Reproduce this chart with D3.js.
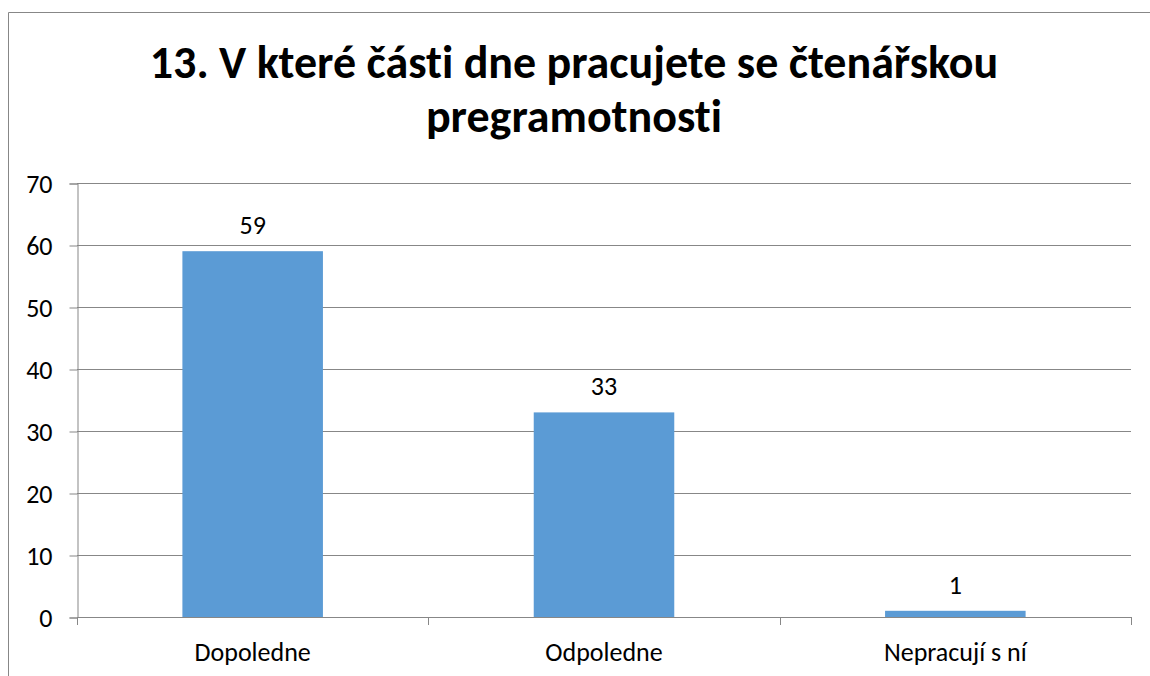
<!DOCTYPE html>
<html>
<head>
<meta charset="utf-8">
<script src="https://cdn.jsdelivr.net/npm/d3@7"></script>
<style>
  body { margin: 0; background: #fff; }
  text { font-family: Carlito, Calibri, "Open Sans", sans-serif; fill: #000; font-variant-ligatures: none; }
</style>
</head>
<body>
<script>
var categories = ["Dopoledne", "Odpoledne", "Nepracují s ní"];
var values = [59, 33, 1];
var yTicks = [0, 10, 20, 30, 40, 50, 60, 70];
var titleLines = ["13. V které části dne pracujete se čtenářskou", "pregramotnosti"];

var width = 1150, height = 676,
	plotLeft = 77, plotRight = 1131, plotTop = 183, plotBottom = 617,
	gridColor = "#878787", barColor = "#5b9bd5";

var svg = d3.select("body").append("svg")
	.attr("width", width)
	.attr("height", height);

// chart frame (only top and left edges fall inside the picture)
svg.append("path")
	.attr("d", "M8.5," + height + "V12.5H" + width)
	.attr("fill", "none")
	.attr("stroke", gridColor)
	.attr("stroke-width", 1);

svg.selectAll(".title").data(titleLines).enter().append("text")
	.attr("class", "title")
	.attr("x", 574)
	.attr("y", function(d, i) { return 78 + i * 54; })
	.attr("text-anchor", "middle")
	.style("font-size", "46px")
	.style("font-weight", "bold")
	.text(function(d) { return d; });

var x = d3.scaleBand().domain(categories).range([plotLeft, plotRight]).paddingInner(0.6).paddingOuter(0.3);
var y = d3.scaleLinear().domain([0, 70]).range([plotBottom, plotTop]);

// gridlines
svg.append("g").selectAll("line").data(yTicks).enter().append("line")
	.attr("x1", plotLeft).attr("x2", plotRight)
	.attr("y1", function(d) { return Math.round(y(d)) + 0.5; })
	.attr("y2", function(d) { return Math.round(y(d)) + 0.5; })
	.attr("stroke", gridColor);

// y axis
var yAxis = svg.append("g")
	.attr("transform", "translate(" + (plotLeft + 0.5) + ",0.5)")
	.call(d3.axisLeft(y).tickValues(yTicks).tickSize(8).tickPadding(17));
yAxis.selectAll("line, path").attr("stroke", gridColor);
yAxis.selectAll("text")
	.attr("dy", "0.35em")
	.style("font-size", "26px")
	.style("font-family", "Carlito, Calibri, 'Open Sans', sans-serif")
	.style("fill", "#000");

// bars
svg.append("g").selectAll("rect").data(values).enter().append("rect")
	.attr("x", function(d, i) { return x(categories[i]); })
	.attr("width", x.bandwidth())
	.attr("y", function(d) { return y(d); })
	.attr("height", function(d) { return y(0) - y(d); })
	.attr("fill", barColor);

// x axis with ticks between categories
var bounds = categories.map(function(c) { return x(c) - x.step() * 0.3; }).concat([plotRight]);
svg.append("line")
	.attr("x1", plotLeft).attr("x2", plotRight)
	.attr("y1", plotBottom + 0.5).attr("y2", plotBottom + 0.5)
	.attr("stroke", gridColor);
svg.append("g").selectAll("line").data(bounds).enter().append("line")
	.attr("x1", function(d) { return Math.round(d) + 0.5; })
	.attr("x2", function(d) { return Math.round(d) + 0.5; })
	.attr("y1", plotBottom).attr("y2", plotBottom + 8)
	.attr("stroke", gridColor);

svg.append("g").selectAll("text").data(categories).enter().append("text")
	.attr("x", function(d) { return x(d) + x.bandwidth() / 2; })
	.attr("y", 661)
	.attr("text-anchor", "middle")
	.style("font-size", "26px")
	.text(function(d) { return d; });

// value labels
svg.append("g").selectAll("text").data(values).enter().append("text")
	.attr("x", function(d, i) { return x(categories[i]) + x.bandwidth() / 2; })
	.attr("y", function(d) { return y(d) - 17; })
	.attr("text-anchor", "middle")
	.style("font-size", "26px")
	.text(function(d) { return d; });
</script>
</body>
</html>
